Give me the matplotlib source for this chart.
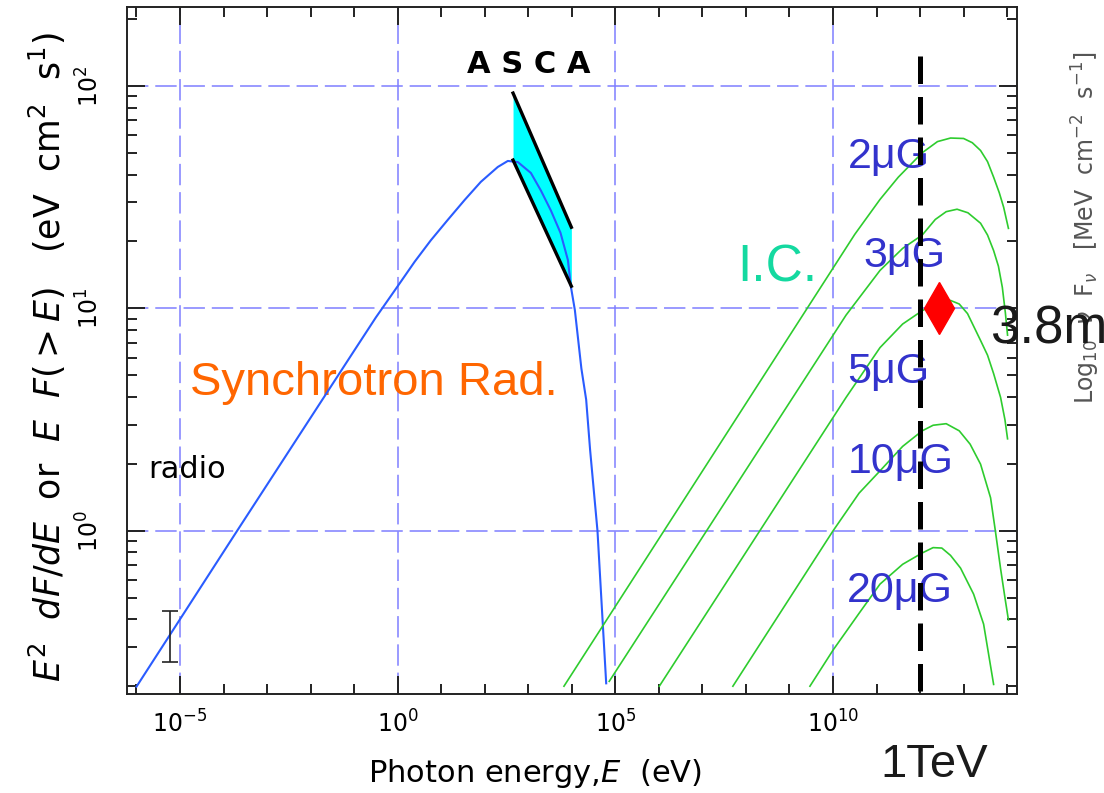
"""Broad-band SED: synchrotron + ASCA bowtie + inverse-Compton curves for several B."""
import matplotlib.pyplot as plt
import numpy as np
from matplotlib.ticker import FixedLocator, LogLocator, NullFormatter

plt.rcParams.update({"font.family": "DejaVu Sans", "mathtext.fontset": "dejavusans"})

# synchrotron model, log10 E [eV] vs log10 E^2 dF/dE
sync_logE = [-6.0, -3.69, -1.0, -0.5, 0.0, 0.39, 0.76, 1.15, 1.54, 1.91, 2.30, 2.53, 2.76,
             3.06, 3.29, 3.52, 3.74, 3.91, 3.98, 4.07, 4.22, 4.33, 4.42, 4.59, 4.68, 4.79]
sync_logF = [-0.70, 0.0, 0.81, 0.96, 1.10, 1.21, 1.306, 1.398, 1.488, 1.569, 1.636, 1.663, 1.658,
             1.609, 1.53, 1.44, 1.34, 1.218, 1.097, 0.993, 0.73, 0.59, 0.365, 0.0, -0.31, -0.685]

# ASCA power-law bowtie (upper edge, lower edge)
asca_logE = [2.65, 3.99]
asca_hi = [1.968, 1.365]
asca_lo = [1.667, 1.10]

# radio point
radio_E = 10 ** -5.23
radio_F = 0.351
radio_err = [[0.094], [0.086]]

# inverse-Compton curves for each field strength
ic_labels = ["2μG", "3μG", "5μG", "10μG", "20μG"]
ic_logE = [
    [3.82, 10.5, 11.08, 11.5, 12.05, 12.4, 12.7, 13.0, 13.2, 13.39, 13.55, 13.69, 13.82, 13.92, 14.03],
    [4.86, 10.3, 11.08, 11.6, 12.05, 12.35, 12.6, 12.85, 13.1, 13.39, 13.55, 13.69, 13.8, 13.89, 13.96, 14.01],
    [6.01, 10.3, 11.08, 11.6, 12.05, 12.4, 12.7, 12.9, 13.09, 13.39, 13.55, 13.69, 13.85, 13.95, 14.01],
    [7.70, 10.0, 10.6, 11.08, 11.6, 12.05, 12.3, 12.6, 12.9, 13.15, 13.39, 13.62, 13.73, 13.85, 13.95, 14.03],
    [9.47, 10.0, 10.6, 11.08, 11.6, 12.05, 12.3, 12.5, 12.7, 12.93, 13.23, 13.46, 13.69],
]
ic_logF = [
    [-0.698, 1.333, 1.49, 1.59, 1.70, 1.75, 1.766, 1.764, 1.745, 1.71, 1.66, 1.59, 1.52, 1.455, 1.36],
    [-0.676, 0.97, 1.171, 1.27, 1.33, 1.40, 1.435, 1.446, 1.43, 1.383, 1.33, 1.26, 1.19, 1.095, 0.98, 0.88],
    [-0.698, 0.60, 0.824, 0.93, 0.99, 1.025, 1.036, 1.02, 0.977, 0.856, 0.79, 0.707, 0.60, 0.50, 0.414],
    [-0.698, 0.0, 0.17, 0.27, 0.38, 0.45, 0.475, 0.482, 0.45, 0.39, 0.30, 0.149, 0.0, -0.17, -0.30, -0.40],
    [-0.698, -0.536, -0.37, -0.239, -0.15, -0.099, -0.075, -0.077, -0.11, -0.167, -0.284, -0.419, -0.69],
]
# label anchors (log E, log F) for the field-strength tags
ic_label_logE = [10.345, 10.689, 10.322, 10.345, 10.322]
ic_label_logF = [1.631, 1.187, 0.665, 0.261, -0.319]

tev_E = 1e12
obs_E = [10 ** 12.44]
obs_F = [10.0]

fig = plt.figure(figsize=(11.04, 7.93), dpi=100)
ax = fig.add_axes([127 / 1104, 1 - 694 / 793, 890 / 1104, 687 / 793])
ax.set_xscale("log")
ax.set_yscale("log")
ax.set_xlim(10 ** -6.218, 10 ** 14.227)
ax.set_ylim(10 ** -0.733, 10 ** 2.355)

ax.grid(which="major", color="#7f7fff", lw=1.1, ls=(0, (14, 4.5)))

ax.plot(10 ** np.array(sync_logE), 10 ** np.array(sync_logF), color="#2a5cff", lw=1.5, zorder=4)

bx = 10 ** np.array(asca_logE)
ax.fill_between(bx, 10 ** np.array(asca_lo), 10 ** np.array(asca_hi), color="#00ffff", lw=0, zorder=3)
ax.plot(bx, 10 ** np.array(asca_hi), color="black", lw=2.4, zorder=5)
ax.plot(bx, 10 ** np.array(asca_lo), color="black", lw=2.4, zorder=5)

ax.errorbar([radio_E], [radio_F], yerr=radio_err, fmt="none", ecolor="#222222",
            elinewidth=1.2, capsize=6, capthick=1.2, zorder=4)

for le, lf in zip(ic_logE, ic_logF):
    ax.plot(10 ** np.array(le), 10 ** np.array(lf), color="#2ecc2e", lw=1.2, zorder=4)

for lab, lx, ly in zip(ic_labels, ic_label_logE, ic_label_logF):
    ax.text(10 ** lx, 10 ** ly, lab, color="#3333cc", fontsize=31,
            family="Liberation Sans", ha="left", va="baseline", zorder=6)

ax.plot([tev_E, tev_E], [10 ** -0.72, 10 ** 2.16], color="black", lw=3.6,
        ls=(0, (5.5, 2.6)), zorder=6)
ax.plot(obs_E, obs_F, marker="d", color="red", ms=26, mec="red", ls="none", zorder=7)

ax.text(10 ** 3.01, 10 ** 2.058, "A S C A", fontsize=22, fontweight="bold",
        ha="center", va="baseline")
ax.text(10 ** -5.735, 10 ** 0.238, "radio", fontsize=22, ha="left", va="baseline")
ax.text(10 ** -4.77, 10 ** 0.611, "Synchrotron Rad.", color="#ff6600", fontsize=34,
        family="Liberation Sans", ha="left", va="baseline")
ax.text(10 ** 7.795, 10 ** 1.119, "I.C.", color="#14d9a0", fontsize=37,
        family="Liberation Sans", ha="left", va="baseline")

# axes: inward ticks on all four sides
ax.xaxis.set_major_locator(FixedLocator([1e-5, 1e0, 1e5, 1e10]))
ax.set_xticklabels([r"10$^{-5}$", r"10$^{0}$", r"10$^{5}$", r"10$^{10}$"])
ax.xaxis.set_minor_locator(FixedLocator([10.0 ** k for k in range(-6, 15) if k % 5]))
ax.xaxis.set_minor_formatter(NullFormatter())
ax.yaxis.set_major_locator(FixedLocator([1e0, 1e1, 1e2]))
ax.set_yticklabels([r"10$^{0}$", r"10$^{1}$", r"10$^{2}$"], rotation=90, va="center")
ax.yaxis.set_minor_locator(LogLocator(base=10, subs=np.arange(2, 10), numticks=20))
ax.yaxis.set_minor_formatter(NullFormatter())
ax.tick_params(which="both", direction="in", top=True, right=True, width=1.4, color="#222222")
ax.tick_params(which="major", length=13, labelsize=17)
ax.tick_params(axis="x", which="major", pad=12)
ax.tick_params(axis="y", which="major", pad=17)
ax.tick_params(which="minor", length=7)
for s in ax.spines.values():
    s.set_linewidth(1.4)
    s.set_color("#222222")

fig.text(535 / 1104, 1 - 773 / 793, r"Photon energy,$E$  (eV)", fontsize=22,
         ha="center", va="center")
fig.text(47 / 1104, 1 - 357 / 793,
         r"$E^2$  $dF/dE$  or  $E$  $F(>E)$   (eV  cm$^2$  s$^1$)", fontsize=25,
         rotation=90, ha="center", va="center")
fig.text(1086 / 1104, 1 - 228 / 793,
         r"Log$_{10}$  $\nu$  F$_\nu$   [MeV  cm$^{-2}$  s$^{-1}$]", fontsize=17,
         color="#555555", rotation=90, ha="center", va="center")
fig.text(990 / 1104, 1 - 343 / 793, "3.8m", fontsize=38, color="#1a1a1a",
         family="Liberation Sans", ha="left", va="baseline", zorder=10)
fig.text(880 / 1104, 1 - 777 / 793, "1TeV", fontsize=34, color="#1a1a1a",
         family="Liberation Sans", ha="left", va="baseline")

fig.savefig("out.png", dpi=100)
